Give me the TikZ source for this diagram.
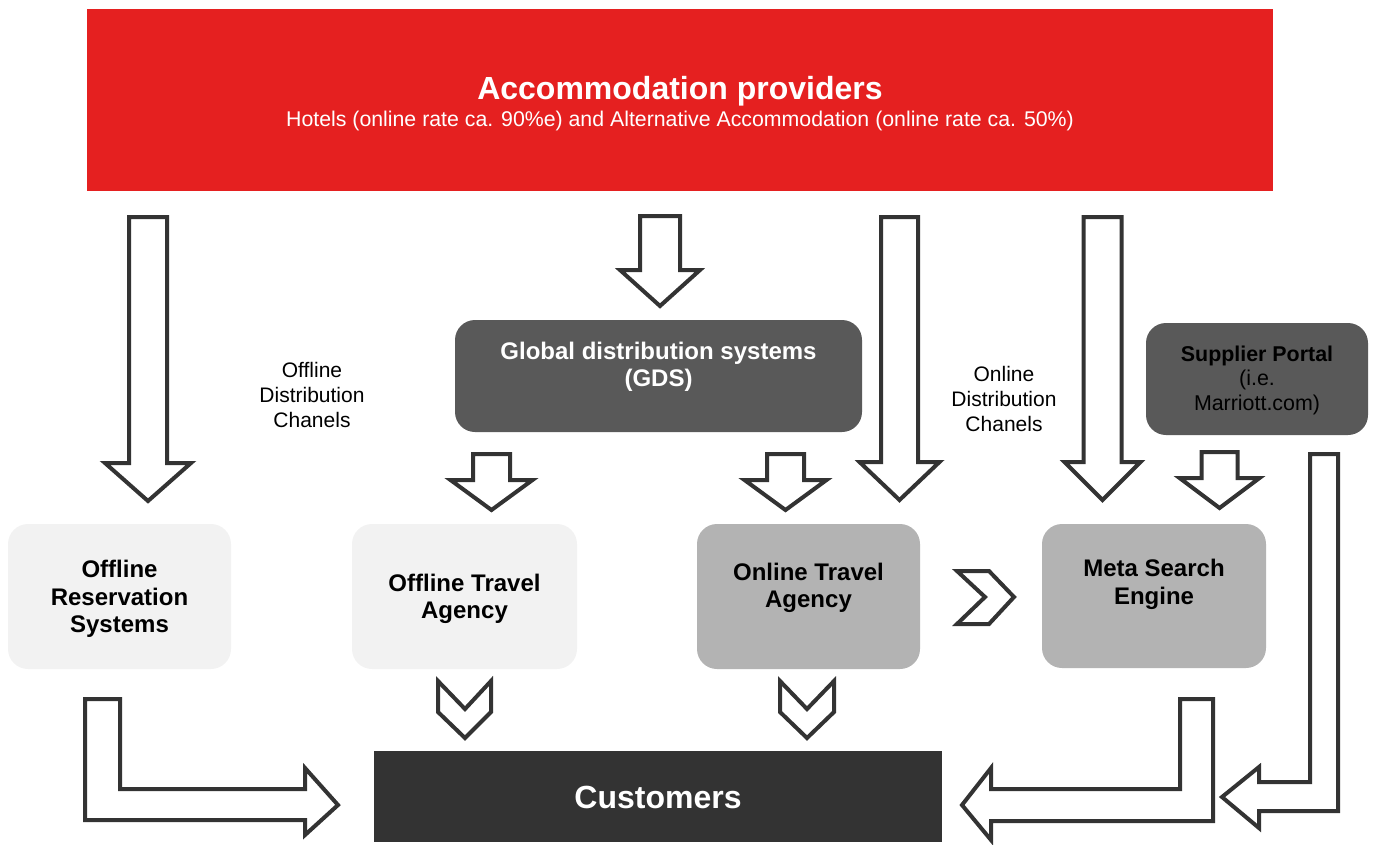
\documentclass[tikz,border=0pt]{standalone}
\usepackage{fontspec}
\setmainfont{Liberation Sans}
\definecolor{provred}{HTML}{E52020}
\definecolor{darkbox}{HTML}{595959}
\definecolor{lightbox}{HTML}{F2F2F2}
\definecolor{midbox}{HTML}{B3B3B3}
\definecolor{custbox}{HTML}{333333}
\definecolor{arrowline}{HTML}{333333}
\newcommand\blockdown[6]{%
  \draw[blockarrow] ({#1-#5},#2) -- ({#1+#5},#2) -- ({#1+#5},#3) -- ({#1+#6},#3)
    -- (#1,#4) -- ({#1-#6},#3) -- ({#1-#5},#3) -- cycle;}
\tikzset{
  blockarrow/.style={draw=arrowline, line width=4pt, fill=white, line join=miter},
  box/.style={rounded corners=20pt, inner sep=0pt, draw=none},
  boxtext/.style={align=center, font=\fontsize{24}{27.5}\selectfont\bfseries},
  plaintext/.style={align=center, font=\fontsize{21}{25}\selectfont}
}
\begin{document}
\begin{tikzpicture}[x=1pt,y=-1pt]
\useasboundingbox (0,0) rectangle (1376,844);
% provider banner
\node[fill=provred, minimum width=1186pt, minimum height=182pt, inner sep=0pt] (prov) at (680,100) {};
\node[text=white, font=\fontsize{32}{34}\selectfont\bfseries] (provt) at (680,91) {Accommodation providers};
\node[text=white, font=\fontsize{21.3}{24}\selectfont] (provs) at (680,121) {Hotels (online rate ca. 90\%e) and Alternative Accommodation (online rate ca. 50\%)};
% boxes
\node[box, fill=darkbox, minimum width=407pt, minimum height=112pt] (gds) at (658.5,376) {};
\node[boxtext, text=white] (gdst) at (658.5,367) {Global distribution systems\\(GDS)};
\node[box, fill=darkbox, minimum width=222pt, minimum height=112pt] (sp) at (1257,379) {};
\node[align=center, text=black, font=\fontsize{21.4}{24.5}\selectfont] (spt) at (1257,380) {\textbf{Supplier Portal}\\(i.e.\\Marriott.com)};
\node[box, fill=lightbox, minimum width=223pt, minimum height=145pt] (ors) at (119.5,596.5) {};
\node[boxtext] (orst) at (119.5,599) {Offline\\Reservation\\Systems};
\node[box, fill=lightbox, minimum width=225pt, minimum height=145pt] (ota) at (464.5,596.5) {};
\node[boxtext] (otat) at (464.5,599) {Offline Travel\\Agency};
\node[box, fill=midbox, minimum width=223pt, minimum height=145pt] (ona) at (808.5,596.5) {};
\node[boxtext] (onat) at (808.5,588) {Online Travel\\Agency};
\node[box, fill=midbox, minimum width=224pt, minimum height=144pt] (mse) at (1154,596) {};
\node[boxtext] (mset) at (1154,584.5) {Meta Search\\Engine};
\node[fill=custbox, minimum width=568pt, minimum height=91pt, inner sep=0pt] (cust) at (658,796.5) {};
\node[text=white, font=\fontsize{32}{34}\selectfont\bfseries] (custt) at (658,797) {Customers};
% channel labels
\node[plaintext] (offl) at (312,395) {Offline\\Distribution\\Chanels};
\node[plaintext] (onl) at (1004,399) {Online\\Distribution\\Chanels};
% straight block arrows
\blockdown{148}{217}{463}{501}{19}{43}
\blockdown{660}{216}{270}{306}{20}{40}
\blockdown{899.5}{217}{462}{500}{18.5}{40}
\blockdown{1102.5}{217}{462}{500}{19}{38}
\blockdown{491.5}{454}{480}{510}{18.5}{41}
\blockdown{785.5}{454}{480}{510}{18.5}{41}
\blockdown{1219.5}{452}{478}{508}{18}{40}
% chevrons
\draw[blockarrow] (438,681) -- (465,709) -- (491,681) -- (491,712) -- (465,738) -- (438,712) -- cycle;
\draw[blockarrow] (780,681) -- (807,709) -- (834,681) -- (834,712) -- (807,738) -- (780,712) -- cycle;
\draw[blockarrow] (957,571) -- (989,571) -- (1014,597) -- (989,624) -- (957,624) -- (985,597) -- cycle;
% bent arrows
\draw[blockarrow] (85,699) -- (120,699) -- (120,789) -- (305,789) -- (305,768) -- (338,805) -- (305,835) -- (305,820) -- (85,820) -- cycle;
\draw[blockarrow] (1213,699) -- (1180,699) -- (1180,789) -- (991,789) -- (991,768) -- (962,805) -- (991,840) -- (991,821) -- (1213,821) -- cycle;
\draw[blockarrow] (1338,454) -- (1310,454) -- (1310,782) -- (1259,782) -- (1259,767) -- (1222,797) -- (1259,828) -- (1259,811) -- (1338,811) -- cycle;
\end{tikzpicture}
\end{document}
